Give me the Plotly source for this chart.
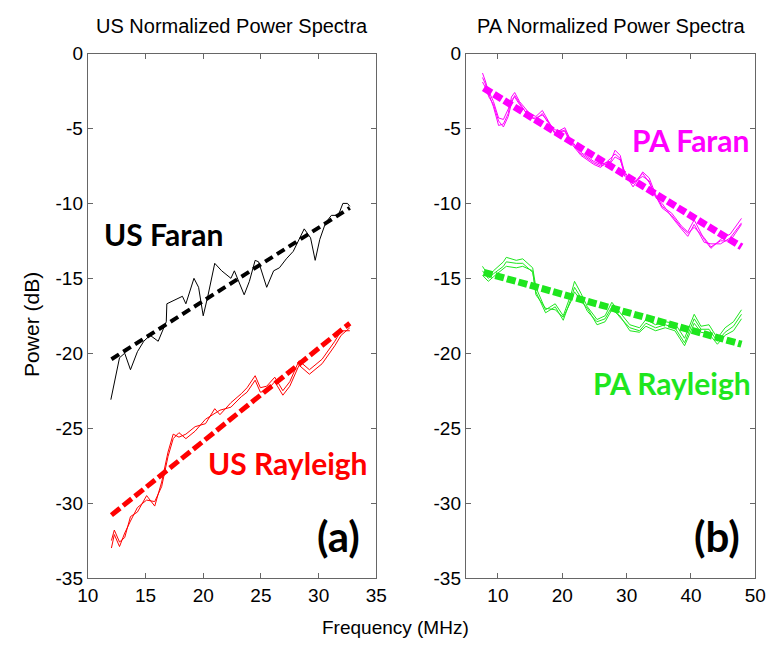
import plotly.graph_objects as go

W, H = 778, 649

# ---------------- data ----------------
us_faran_x = [12.0, 12.75, 13.2, 13.7, 14.3, 14.85, 15.4, 16.1, 16.8, 16.85, 18.2, 18.5, 19.2, 19.6,
              20.0, 20.4, 21.0, 21.6, 22.4, 22.7, 23.55, 24.0, 24.5, 24.8, 25.5, 26.1, 26.6, 27.2,
              27.8, 28.75, 29.3, 29.7, 30.1, 30.6, 31.1, 31.7, 32.1, 32.5, 32.7]
us_faran_y = [-23.1, -20.3, -20.0, -21.1, -19.9, -19.2, -18.8, -19.2, -17.9, -16.7, -16.2, -16.7,
              -15.0, -15.6, -17.5, -16.2, -14.0, -14.5, -15.0, -14.5, -16.1, -15.2, -13.8, -13.9,
              -15.6, -14.5, -14.3, -13.7, -13.2, -11.7, -12.3, -13.8, -12.4, -11.3, -10.8, -10.8,
              -10.0, -10.0, -10.2]

us_ray_x = [12.05, 12.3, 12.75, 13.2, 13.7, 14.3, 15.1, 15.8, 16.4, 16.95, 17.4, 17.9, 18.5, 19.3,
            20.2, 21.0, 21.45, 22.4, 23.3, 23.8, 24.5, 24.95, 25.5, 26.2, 26.9, 27.5, 28.3, 29.2,
            30.3, 31.4, 31.95, 32.7]
us_ray_y1 = [-32.5, -31.8, -32.6, -32.3, -30.9, -30.6, -29.5, -30.2, -28.6, -26.6, -25.4, -25.6,
             -25.4, -24.9, -24.7, -23.7, -24.1, -23.3, -22.7, -22.3, -21.5, -22.3, -22.2, -21.6,
             -22.5, -21.9, -20.5, -21.1, -20.4, -19.2, -18.5, -18.5]
us_ray_y2 = [-33.0, -32.1, -32.9, -32.0, -31.2, -30.3, -29.8, -29.9, -28.9, -26.9, -25.7, -25.3,
             -25.7, -25.2, -24.4, -24.0, -23.8, -23.6, -22.9, -22.6, -21.8, -22.6, -22.5, -21.9,
             -22.8, -22.2, -20.8, -21.4, -20.7, -19.5, -18.8, -18.3]

pa_faran_x = [7.6, 8.1, 8.6, 9.3, 10.1, 10.85, 11.6, 12.1, 12.6, 13.35, 14.9, 15.9, 16.9, 17.6,
              18.9, 20.4, 21.2, 22.9, 24.9, 25.95, 27.5, 28.2, 29.0, 29.7, 31.0, 32.5, 33.5, 34.5,
              35.5, 37.0, 38.5, 39.5, 40.5, 42.05, 43.1, 44.6, 46.1, 47.85]
pa_faran_y1 = [-1.3, -1.9, -2.7, -3.55, -4.8, -4.7, -4.0, -2.9, -2.6, -3.2, -4.0, -4.2, -3.8, -4.3,
               -5.3, -4.95, -5.7, -6.6, -7.2, -7.4, -7.2, -6.45, -6.8, -8.0, -8.9, -7.9, -8.3,
               -9.4, -10.2, -10.65, -11.5, -11.9, -11.1, -12.4, -13.0, -12.4, -12.05, -11.0]
pa_faran_y2 = [-1.6, -2.1, -2.5, -3.2, -4.3, -4.4, -3.7, -3.1, -2.9, -3.4, -4.2, -4.4, -4.0, -4.5,
               -5.1, -5.2, -5.9, -6.8, -7.4, -7.6, -7.0, -6.7, -7.0, -8.2, -8.6, -8.2, -8.5,
               -9.6, -10.0, -10.9, -11.7, -12.2, -11.4, -12.6, -12.7, -12.7, -12.3, -11.3]
pa_faran_y3 = [-1.9, -2.3, -2.9, -3.4, -4.5, -4.9, -4.2, -3.3, -2.8, -3.3, -4.3, -4.3, -4.1, -4.4,
               -5.4, -5.1, -5.8, -6.7, -7.3, -7.5, -7.3, -6.9, -7.1, -7.9, -8.7, -8.0, -8.6,
               -9.5, -10.3, -10.8, -11.6, -12.0, -11.6, -12.3, -12.9, -12.5, -12.5, -11.4]

pa_ray_x = [7.6, 8.5, 9.3, 10.85, 11.3, 12.85, 13.85, 15.4, 15.9, 17.4, 18.9, 20.15, 21.4, 21.9,
            22.9, 23.9, 25.4, 26.65, 27.7, 28.95, 30.5, 32.0, 33.0, 34.5, 36.0, 37.5, 39.0, 40.5,
            41.55, 42.8, 44.1, 45.3, 46.6, 47.85]
pa_ray_y1 = [-14.2, -14.8, -14.5, -13.9, -13.6, -13.8, -13.7, -14.3, -15.6, -17.1, -16.7, -17.5,
             -16.0, -15.2, -16.0, -16.9, -17.75, -17.5, -16.6, -17.3, -18.1, -18.3, -17.75, -18.1,
             -17.9, -18.0, -19.0, -17.4, -18.2, -18.1, -19.0, -18.3, -17.9, -17.1]
pa_ray_y2 = [-14.5, -15.0, -14.7, -14.2, -13.9, -14.0, -14.0, -14.6, -15.9, -17.3, -16.9, -17.8,
             -16.3, -15.6, -16.3, -17.2, -17.9, -17.7, -16.9, -17.6, -18.3, -18.5, -18.0, -18.3,
             -18.1, -18.3, -19.3, -17.7, -18.4, -18.4, -19.2, -18.6, -18.2, -17.4]
pa_ray_y3 = [-14.8, -15.2, -14.9, -14.4, -14.2, -14.3, -14.2, -14.5, -16.1, -17.0, -17.1, -17.6,
             -16.5, -15.9, -16.5, -17.0, -18.1, -17.9, -17.1, -17.5, -18.5, -18.6, -18.2, -18.5,
             -18.3, -18.5, -19.5, -18.0, -18.6, -18.7, -19.4, -18.8, -18.5, -17.7]

us_fit_x = [12.05, 32.7]
us_faran_fit_y = [-20.4, -10.3]
us_ray_fit_y = [-30.8, -18.0]
pa_fit_x = [7.8, 47.85]
pa_faran_fit_y = [-2.3, -12.9]
pa_ray_fit_y = [-14.6, -19.4]

y_ticks = [0, -5, -10, -15, -20, -25, -30, -35]
y_ticktext = ["0", "-5", "-10", "-15", "-20", "-25", "-30", "-35"]
us_x_ticks = [10, 15, 20, 25, 30, 35]
pa_x_ticks = [10, 20, 30, 40, 50]

BLACK = "#000000"
RED = "#FF0000"
MAGENTA = "#FF00FF"
GREEN = "#1EE61E"

# ---------------- figure ----------------
fig = go.Figure()

def line(x, y, color, width, xa, ya, dash="solid"):
    fig.add_trace(go.Scatter(x=x, y=y, mode="lines", xaxis=xa, yaxis=ya,
                             line=dict(color=color, width=width, dash=dash),
                             showlegend=False, hoverinfo="skip"))

# left panel
line(us_faran_x, us_faran_y, BLACK, 1, "x", "y")
line(us_ray_x, us_ray_y1, RED, 1, "x", "y")
line(us_ray_x, us_ray_y2, RED, 1, "x", "y")
line(us_fit_x, us_faran_fit_y, BLACK, 4, "x", "y", "9px,5px")
line(us_fit_x, us_ray_fit_y, RED, 5, "x", "y", "11px,4px")

# right panel
for yy in (pa_faran_y1, pa_faran_y2, pa_faran_y3):
    line(pa_faran_x, yy, MAGENTA, 1, "x2", "y2")
for yy in (pa_ray_y1, pa_ray_y2, pa_ray_y3):
    line(pa_ray_x, yy, GREEN, 1, "x2", "y2")
line(pa_fit_x, pa_faran_fit_y, MAGENTA, 7, "x2", "y2", "9px,3px")
line(pa_fit_x, pa_ray_fit_y, GREEN, 7, "x2", "y2", "9px,3px")

axis_font = dict(family="Liberation Sans, Arial, sans-serif", size=19, color="#000")
common = dict(showline=True, mirror="ticks", linecolor="#666666", linewidth=1,
              ticks="inside", ticklen=5, tickcolor="#666666", showgrid=False,
              zeroline=False, tickfont=axis_font)

L0, L1 = 79 / W, 376 / W
R0, R1 = 468 / W, 766 / W
B0, T1 = 1 - 587 / H, 1 - 45 / H

fig.update_layout(
    width=W, height=H,
    margin=dict(l=0, r=0, t=0, b=0),
    paper_bgcolor="white", plot_bgcolor="white",
    xaxis=dict(domain=[L0, L1], range=[10, 35], tickvals=us_x_ticks, anchor="y", **common),
    yaxis=dict(domain=[B0, T1], range=[-35, 0], tickvals=y_ticks, ticktext=y_ticktext,
               anchor="x", **common),
    xaxis2=dict(domain=[R0, R1], range=[5, 50], tickvals=pa_x_ticks, anchor="y2", **common),
    yaxis2=dict(domain=[B0, T1], range=[-35, 0], tickvals=y_ticks, ticktext=y_ticktext,
                anchor="x2", **common),
)

def px_ann(text, x, y, size, color, bold=False, family="Liberation Sans, Arial, sans-serif",
           angle=0):
    fig.add_annotation(text=f"<b>{text}</b>" if bold else text,
                       x=x / W, y=1 - y / H, xref="paper", yref="paper",
                       xanchor="center", yanchor="middle", showarrow=False, textangle=angle,
                       font=dict(family=family, size=size, color=color))

px_ann("US Normalized Power Spectra", (79 + 376) / 2, 17, 20, "#000")
px_ann("PA Normalized Power Spectra", (468 + 766) / 2, 17, 20, "#000")
px_ann("Frequency (MHz)", 396, 638, 19, "#000")
px_ann("Power (dB)", 21, 325, 21, "#000", angle=-90)

lab = "Lato, Open Sans, sans-serif"
px_ann("US Faran", 157, 231, 30, BLACK, True, lab)
px_ann("US Rayleigh", 285, 468, 30, RED, True, lab)
px_ann("(a)", 337, 544, 42, BLACK, True, lab)
px_ann("PA Faran", 700, 134, 30, MAGENTA, True, lab)
px_ann("PA Rayleigh", 680, 385, 30, GREEN, True, lab)
px_ann("(b)", 727, 544, 42, BLACK, True, lab)

fig.write_html("out.html")
